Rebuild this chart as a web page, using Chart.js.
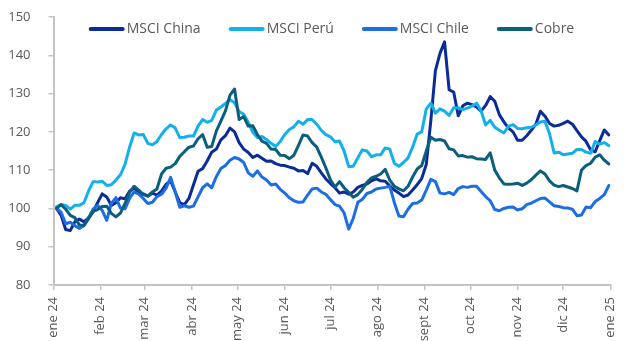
<!DOCTYPE html>
<html lang="es">
<head>
<meta charset="utf-8">
<title>MSCI y cobre 2024</title>
<script src="https://cdn.jsdelivr.net/npm/chart.js@4.4.1/dist/chart.umd.min.js"></script>
<style>
  html, body { margin: 0; padding: 0; background: #fff; }
  #wrap { position: relative; width: 633px; height: 341px; }
</style>
</head>
<body>
<div id="wrap"><canvas id="chart"></canvas></div>
<script>
// Índices base 100 al inicio de 2024. Eje X = día del año (0 = 1 ene 2024).
const days = [
  2, 5, 8, 11, 14, 17, 20, 23, 26, 29,
  32, 35, 38, 41, 44, 47, 50, 53, 56, 59,
  62, 65, 68, 71, 74, 77, 80, 83, 86, 89,
  92, 95, 98, 101, 104, 107, 110, 113, 116, 119,
  122, 125, 128, 131, 134, 137, 140, 143, 146, 149,
  152, 155, 158, 161, 164, 167, 170, 173, 176, 179,
  182, 185, 188, 191, 194, 197, 200, 203, 206, 209,
  212, 215, 218, 221, 224, 227, 230, 233, 236, 239,
  242, 245, 248, 251, 254, 257, 260, 263, 266, 269,
  272, 275, 278, 281, 284, 287, 290, 293, 296, 299,
  302, 305, 308, 311, 314, 317, 320, 323, 326, 329,
  332, 335, 338, 341, 344, 347, 350, 353, 356, 359,
  362, 365
];

const msciChina = [
  100, 98.2, 94.5, 94.2, 96.5, 97.2, 96.5, 97.5, 99.1, 101.5,
  103.8, 103, 100.8, 101.5, 102.8, 102.5, 104.5, 105.3, 104.2, 103.8,
  103.2, 104, 103.5, 104.5, 106.3, 107.2, 104.3, 101.5, 101, 102.6,
  106.2, 109.7, 110.4, 112.4, 114.7, 115.5, 117.9, 119, 121, 120,
  117.2, 115.5, 114.6, 113.3, 113.9, 113.1, 112.3, 112.4, 111.7, 111.3,
  111.2, 110.8, 110.5, 109.8, 109.9, 109.1, 111.8, 111, 109.3, 107.7,
  106.5, 105.4, 104, 104.3, 103.7, 104.3, 105.5, 106, 106.4, 107.2,
  107.8, 107.2, 107.1, 105.9, 104.8, 104, 103.1, 103.5, 104.8, 106.2,
  107.8, 111.5, 123, 136, 140.5, 143.5, 131, 130.4, 124.2, 126.8,
  127.5, 127.1, 126.5, 125.4, 126.9, 129.2, 128, 124.5, 122.6, 121,
  120, 117.8, 117.8, 119, 120.4, 122, 125.4, 124.1, 122.2, 121.5,
  121.7, 122.2, 122.8, 122, 120.3, 118.7, 117.5, 115.3, 114.8, 117.7,
  120.5, 119.2
];

const msciPeru = [
  100.4, 101, 100.8, 99.8, 100.8, 100.8, 101.5, 104.5, 107, 106.9,
  107.1, 106, 106.2, 107.4, 108.8, 111.5, 116, 119.7, 119.2, 119.3,
  117, 116.6, 117.5, 119.3, 120.8, 121.8, 121, 118.5, 118.6, 118.9,
  118.9, 121.5, 123.2, 122.5, 123, 125.7, 126.5, 127.4, 128.4, 127.6,
  125.3, 124.6, 122.5, 119.9, 118.5, 118.8, 118, 117, 116.2, 117.5,
  119.3, 120.6, 121.3, 122.8, 122, 123.2, 123.2, 122, 120.4, 119.3,
  118.7, 117.4, 117.6, 115, 110.9, 111, 113.2, 115.3, 115, 113.5,
  114, 114, 115.8, 115.5, 111.8, 111, 112, 113.2, 116, 119.4,
  120, 126, 127.5, 124.9, 126, 125.4, 124.3, 126.3, 126.3, 125.8,
  126.2, 126.7, 127.5, 125.5, 121.8, 123, 121.2, 120.4, 119.7, 121.5,
  121.9, 120.9, 120.8, 121.1, 121.2, 121.8, 122.6, 122.8, 119.5, 114.5,
  114.7, 114, 114.2, 114.4, 115.4, 115.4, 114.7, 114.4, 117.5, 116.8,
  117.2, 116.4
];

const msciChile = [
  100, 99, 96, 96.4, 95.5, 94.8, 95.5, 97.5, 99.8, 100.8,
  99.5, 96.9, 101.3, 102.8, 100.1, 99.9, 102.6, 104.3, 103.7, 102.6,
  101.3, 101.6, 103.1, 103.7, 105.3, 108.1, 104.3, 100.3, 100.7, 100.3,
  100.6, 103, 105.4, 106.4, 105.4, 108.3, 110.4, 111.2, 112.6, 113.3,
  112.9, 112, 109.3, 108.4, 109.8, 108.2, 107.4, 106.1, 106.4, 105,
  104, 102.8, 102, 101.6, 101.7, 103.5, 105.1, 105.3, 104.3, 103.7,
  102.3, 101, 100.6, 98.8, 94.6, 97.4, 101.6, 102.4, 103.9, 104.3,
  105.1, 105.3, 105.5, 105.8, 101.5, 98, 97.8, 99.8, 101.3, 101.4,
  102.2, 104.8, 107.6, 107, 104, 103.8, 104.2, 103.6, 105.2, 105.7,
  105.5, 105.8, 105.8, 104.4, 103.1, 102, 99.7, 99.4, 100, 100.3,
  100.4, 99.6, 99.9, 101, 101.4, 102, 102.6, 102.7, 101.7, 100.7,
  100.5, 100.2, 100.1, 99.8, 98.1, 98.3, 100.4, 100.2, 101.8, 102.6,
  103.6, 106
];

const cobre = [
  100, 101, 99.8, 98.2, 97.6, 95.7, 95.6, 97.3, 99.2, 99.7,
  100.5, 100.6, 98.7, 97.8, 98.8, 101.3, 104.2, 105.8, 104.8, 103.6,
  103.3, 104.3, 105.1, 109, 110.5, 110.8, 111.7, 113.6, 114.8, 116,
  116.3, 118.2, 119.3, 116, 116.2, 120.2, 122.8, 125.5, 129.6, 131.2,
  123.2, 124, 121.5, 121.6, 119.3, 117.6, 117, 115.5, 115.4, 113.9,
  113.8, 113, 113.9, 116.5, 119.2, 118.9, 117.2, 116, 113.4, 110.6,
  107.5, 105.6, 107, 105.4, 104.2, 102.9, 103.6, 105, 106.8, 108,
  108.4, 109, 110.2, 107.4, 105.8, 105.1, 104.6, 105.8, 108.2, 110.3,
  111.2, 115, 118.6, 117.8, 118, 117.6, 115.6, 115.3, 113.7, 113.8,
  113.4, 113.5, 113, 112.9, 112.8, 114.5, 110, 108, 106.4, 106.3,
  106.4, 106.6, 106, 106.6, 107.5, 108.7, 109.8, 109, 107.2, 106.1,
  105.7, 106, 105.6, 105.2, 104.6, 110, 111.2, 111.8, 113.4, 114,
  112.6, 111.6
];

// Primer día de cada mes y su etiqueta
const monthStarts = [0, 31, 60, 91, 121, 152, 182, 213, 244, 274, 305, 335, 366];
const monthLabels = ['ene 24', 'feb 24', 'mar 24', 'abr 24', 'may 24', 'jun 24', 'jul 24',
                     'ago 24', 'sept 24', 'oct 24', 'nov 24', 'dic 24', 'ene 25'];

const AXIS_GREY = '#c4c4c4';
const TEXT_GREY = '#595959';
const FONT = '"Open Sans", "Liberation Sans", sans-serif';

function toPoints(values) {
  return days.map((d, i) => ({ x: d, y: values[i] }));
}

// Leyenda dentro del área del gráfico, centrada sobre el eje X
const insideLegend = {
  id: 'insideLegend',
  afterDatasetsDraw(chart) {
    const { ctx, chartArea } = chart;
    const lineW = 34, gap = 3, spacing = 29;
    ctx.save();
    ctx.font = '14px ' + FONT;
    ctx.textBaseline = 'middle';
    const items = chart.data.datasets.map(ds => ({
      text: ds.label, color: ds.borderColor, w: ctx.measureText(ds.label).width
    }));
    const total = items.reduce((s, it) => s + lineW + gap + it.w, 0) + spacing * (items.length - 1);
    let x = (chartArea.left + chartArea.right) / 2 - total / 2;
    const y = chartArea.top + 12;
    items.forEach(it => {
      ctx.strokeStyle = it.color;
      ctx.lineWidth = 4;
      ctx.lineCap = 'round';
      ctx.beginPath();
      ctx.moveTo(x + 1, y);
      ctx.lineTo(x + lineW - 1, y);
      ctx.stroke();
      ctx.fillStyle = TEXT_GREY;
      ctx.fillText(it.text, x + lineW + gap, y);
      x += lineW + gap + it.w + spacing;
    });
    ctx.restore();
  }
};

Chart.defaults.font.family = FONT;
Chart.defaults.font.size = 13;
Chart.defaults.color = TEXT_GREY;

new Chart(document.getElementById('chart'), {
  type: 'line',
  data: {
    datasets: [
      { label: 'MSCI China', data: toPoints(msciChina), borderColor: '#0b2b98', order: 3 },
      { label: 'MSCI Perú', data: toPoints(msciPeru), borderColor: '#12b1ec', order: 2 },
      { label: 'MSCI Chile', data: toPoints(msciChile), borderColor: '#1d6de3', order: 1 },
      { label: 'Cobre', data: toPoints(cobre), borderColor: '#0b5f7d', order: 0 }
    ]
  },
  options: {
    responsive: true,
    maintainAspectRatio: false,
    animation: false,
    layout: { padding: { top: 17, right: 13, bottom: 0, left: 0 } },
    elements: {
      point: { radius: 0 },
      line: { borderWidth: 3, tension: 0, borderJoinStyle: 'round', borderCapStyle: 'round', fill: false }
    },
    plugins: { legend: { display: false }, tooltip: { enabled: false } },
    scales: {
      x: {
        type: 'linear',
        min: 0,
        max: 366,
        afterBuildTicks: s => { s.ticks = monthStarts.map(v => ({ value: v })); },
        afterFit: s => { s.height = 56; },
        ticks: {
          autoSkip: false,
          minRotation: 90,
          maxRotation: 90,
          padding: 7,
          callback: (v, i) => monthLabels[i]
        },
        grid: { drawOnChartArea: false, tickLength: 5, color: AXIS_GREY, lineWidth: 1.5 },
        border: { color: AXIS_GREY, width: 2 }
      },
      y: {
        min: 80,
        max: 150,
        // ancho fijo; el padding de las etiquetas no debe empujar el área hacia abajo
        afterFit: s => { s.width = 53.5; s.paddingTop = 8; s.paddingBottom = 8; },
        ticks: { stepSize: 10, padding: 18 },
        grid: { drawOnChartArea: false, tickLength: 5, color: AXIS_GREY, lineWidth: 1.5 },
        border: { color: AXIS_GREY, width: 2 }
      }
    }
  },
  plugins: [insideLegend]
});
</script>
</body>
</html>
